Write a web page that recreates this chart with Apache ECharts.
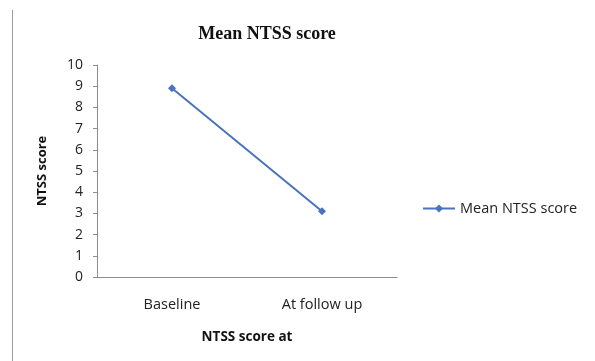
<!DOCTYPE html>
<html>
<head>
<meta charset="utf-8">
<style>
  html, body { margin: 0; padding: 0; background: #fff; }
  #chart { width: 595px; height: 361px; }
</style>
<script src="https://cdn.jsdelivr.net/npm/echarts@6/dist/echarts.min.js"></script>
</head>
<body>
<div id="chart"></div>
<script>
// Mean NTSS score at baseline and at follow up
const categories = ['Baseline', 'At follow up'];
const meanScores = [8.9, 3.1];
const yTicks = [0, 1, 2, 3, 4, 5, 6, 7, 8, 9, 10];

const chart = echarts.init(document.getElementById('chart'), null, { renderer: 'canvas' });
const lineColor = '#4a72c0';
const textColor = '#222';
const sans = 'Open Sans, Liberation Sans, sans-serif';

chart.setOption({
  animation: false,
  title: {
    text: 'Mean NTSS score',
    left: 262,
    top: 20,
    textAlign: 'center',
    textStyle: { fontFamily: 'Liberation Serif, serif', fontWeight: 'bold', fontSize: 18, color: '#111' }
  },
  legend: {
    data: ['Mean NTSS score'],
    left: 417,
    top: 196,
    itemWidth: 32,
    itemHeight: 10,
    textStyle: { fontFamily: sans, fontSize: 14.5, color: textColor }
  },
  grid: { left: 97, right: 198, top: 65, bottom: 84 },
  xAxis: {
    type: 'category',
    data: categories,
    boundaryGap: true,
    name: 'NTSS score at',
    nameLocation: 'middle',
    nameGap: 53,
    nameTextStyle: { fontFamily: sans, fontSize: 13.5, fontWeight: 'bold', color: '#111' },
    axisLine: { lineStyle: { color: '#8c8c8c', width: 1 } },
    axisTick: { show: false },
    axisLabel: { fontFamily: sans, fontSize: 14.5, color: textColor, margin: 20 }
  },
  yAxis: {
    type: 'value',
    min: 0,
    max: 10,
    interval: 1,
    name: 'NTSS score',
    nameLocation: 'middle',
    nameGap: 48,
    nameTextStyle: { fontFamily: sans, fontSize: 13, fontWeight: 'bold', color: '#111' },
    axisLine: { show: true, lineStyle: { color: '#8c8c8c', width: 1 } },
    axisTick: { show: true, inside: false, length: 4, lineStyle: { color: '#8c8c8c' } },
    splitLine: { show: false },
    axisLabel: {
      fontFamily: sans, fontSize: 14, color: textColor, margin: 14,
      formatter: v => yTicks.includes(v) ? String(v) : ''
    }
  },
  series: [{
    name: 'Mean NTSS score',
    type: 'line',
    data: meanScores,
    symbol: 'diamond',
    symbolSize: 8,
    lineStyle: { color: lineColor, width: 2 },
    itemStyle: { color: lineColor }
  }],
  graphic: [{
    type: 'line',
    shape: { x1: 12.5, y1: 10, x2: 12.5, y2: 361 },
    style: { stroke: '#9a9a9a', lineWidth: 1 }
  }]
});
</script>
</body>
</html>
